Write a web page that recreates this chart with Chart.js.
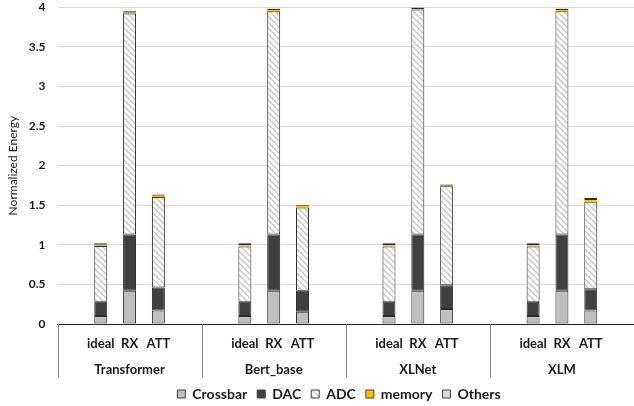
<!DOCTYPE html>
<html>
<head>
<meta charset="utf-8">
<script src="https://cdn.jsdelivr.net/npm/chart.js@4.4.1/dist/chart.umd.min.js"></script>
<style>
  html, body { margin: 0; padding: 0; background: #fff; }
  #wrap { width: 634px; height: 406px; position: relative; }
</style>
</head>
<body>
<div id="wrap"><canvas id="c" width="634" height="406"></canvas></div>
<script>
// ---- data ----
const groups = ['Transformer', 'Bert_base', 'XLNet', 'XLM'];
const configs = ['ideal', 'RX', 'ATT'];
// per group: ideal, RX, ATT
const crossbar = [0.10, 0.42, 0.17,  0.10, 0.42, 0.155,  0.10, 0.42, 0.19,  0.10, 0.42, 0.17];
const dac      = [0.18, 0.71, 0.29,  0.18, 0.71, 0.265,  0.18, 0.71, 0.30,  0.18, 0.71, 0.27];
const adc      = [0.705, 2.79, 1.145, 0.70, 2.82, 1.05,  0.70, 2.84, 1.25,  0.70, 2.82, 1.105];
const memory   = [0.015, 0.01, 0.015, 0.015, 0.01, 0.02, 0.015, 0.005, 0.005, 0.015, 0.01, 0.02];
const others   = [0.02, 0.02, 0.015,  0.025, 0.02, 0.01,  0.025, 0.02, 0.015,  0.025, 0.02, 0.025];
const yTicks = { min: 0, max: 4, step: 0.5 };

// ---- build slots: blank, ideal, RX, ATT, blank per group ----
const labels = [];
groups.forEach(() => { labels.push(''); configs.forEach(c => labels.push(c)); labels.push(''); });
function expand(arr) {
  const out = [];
  for (let g = 0; g < groups.length; g++) {
    out.push(null);
    for (let k = 0; k < configs.length; k++) out.push(arr[g * configs.length + k]);
    out.push(null);
  }
  return out;
}

// hatch pattern
function hatch() {
  const s = 6;
  const p = document.createElement('canvas');
  p.width = s; p.height = s;
  const ctx = p.getContext('2d');
  ctx.fillStyle = '#ffffff';
  ctx.fillRect(0, 0, s, s);
  ctx.strokeStyle = '#c4c4c4';
  ctx.lineWidth = 1.3;
  ctx.beginPath();
  ctx.moveTo(-1, -1); ctx.lineTo(s + 1, s + 1);
  ctx.moveTo(-1, s - 1); ctx.lineTo(1, s + 1);
  ctx.moveTo(s - 1, -1); ctx.lineTo(s + 1, 1);
  ctx.stroke();
  return document.getElementById('c').getContext('2d').createPattern(p, 'repeat');
}

const FONT = 'Lato, "Open Sans", sans-serif';
const border = '#2b2b2b';
function ds(label, data, bg, bw) {
  return {
    label, data: expand(data), backgroundColor: bg,
    borderColor: border, borderWidth: bw === undefined ? 1 : bw, borderSkipped: false,
    barPercentage: 0.45, categoryPercentage: 1.0, stack: 's'
  };
}

const groupPlugin = {
  id: 'groupPlugin',
  afterLayout(chart) {
    if (chart.legend) { chart.legend.left += 44; }
  },
  afterDraw(chart) {
    const x = chart.scales.x;
    const ca = chart.chartArea;
    const ctx = chart.ctx;
    const per = configs.length + 2;
    ctx.save();
    ctx.strokeStyle = '#7f7f7f';
    ctx.lineWidth = 1;
    const top = ca.bottom, bot = ca.bottom + 53;
    const lines = [x.left];
    for (let g = 1; g < groups.length; g++) {
      lines.push((x.getPixelForValue(g * per - 1) + x.getPixelForValue(g * per)) / 2);
    }
    lines.forEach(px => {
      const xx = Math.round(px) + 0.5;
      ctx.beginPath(); ctx.moveTo(xx, top); ctx.lineTo(xx, bot); ctx.stroke();
    });
    ctx.fillStyle = '#1a1a1a';
    ctx.font = 'bold 13px ' + FONT;
    ctx.textAlign = 'center';
    ctx.textBaseline = 'middle';
    groups.forEach((g, i) => {
      const cx = x.getPixelForValue(i * per + 2);
      ctx.fillText(g, cx, ca.bottom + 46);
    });
    ctx.restore();
  }
};

new Chart(document.getElementById('c'), {
  type: 'bar',
  data: {
    labels,
    datasets: [
      ds('Crossbar', crossbar, '#bfbfbf'),
      ds('DAC', dac, '#404040'),
      ds('ADC', adc, hatch()),
      ds('memory', memory, '#ffc000', 0),
      ds('Others', others, '#d9d9d9')
    ]
  },
  options: {
    responsive: false,
    animation: false,
    layout: { padding: { left: 0, right: 0, top: 0, bottom: -5 } },
    plugins: {
      tooltip: { enabled: false },
      legend: {
        position: 'bottom',
        labels: {
          boxWidth: 8, boxHeight: 8, padding: 10,
          color: '#1a1a1a',
          font: { family: FONT, size: 14, weight: 'bold' },
          generateLabels(chart) {
            const items = Chart.defaults.plugins.legend.labels.generateLabels(chart);
            items.forEach(it => { it.lineWidth = 1; it.strokeStyle = '#404040'; });
            return items;
          }
        }
      }
    },
    scales: {
      x: {
        stacked: true,
        grid: { display: false },
        border: { display: true, color: '#222', width: 1 },
        ticks: {
          autoSkip: false, maxRotation: 0, padding: 4,
          color: '#1a1a1a',
          font: { family: FONT, size: 13, weight: 'bold' }
        },
        afterFit(s) { s.height = 53; }
      },
      y: {
        stacked: true,
        min: yTicks.min, max: yTicks.max,
        grid: { color: '#d9d9d9', lineWidth: 1, drawTicks: true, tickLength: 12, tickColor: 'rgba(0,0,0,0)' },
        border: { display: false },
        ticks: {
          stepSize: yTicks.step, padding: 0,
          color: '#1a1a1a',
          font: { family: FONT, size: 12, weight: 'bold' },
          callback: v => String(v)
        },
        title: {
          display: true, text: 'Normalized Energy',
          color: '#1a1a1a',
          padding: { top: 6, bottom: 0 },
          font: { family: FONT, size: 12 }
        },
        afterFit(s) { s.width = 57.5; }
      }
    }
  },
  plugins: [groupPlugin]
});
</script>
</body>
</html>
